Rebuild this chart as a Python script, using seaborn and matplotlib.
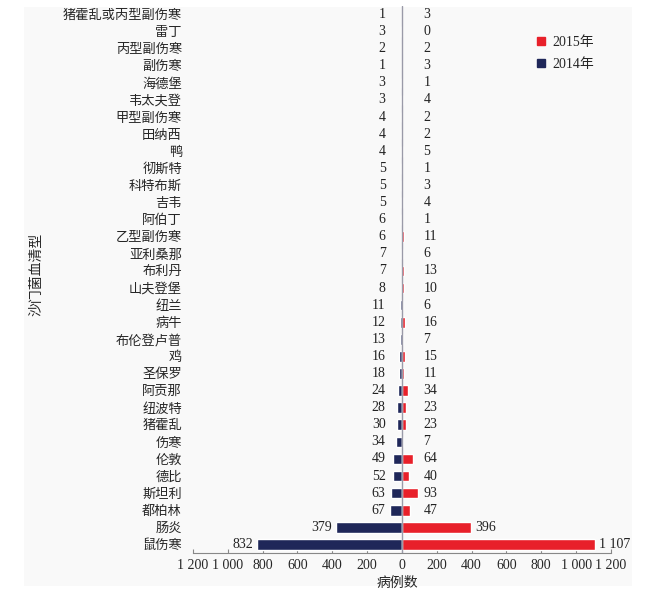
import numpy as np
import pandas as pd
import matplotlib
matplotlib.use("Agg")
import matplotlib.pyplot as plt
from matplotlib.lines import Line2D
from matplotlib.patches import Rectangle
from matplotlib.ticker import FuncFormatter
import seaborn as sns

# ── Data ──────────────────────────────────────────────────────────────────
serotypes = ["猪霍乱或丙型副伤寒", "雷丁", "丙型副伤寒", "副伤寒", "海德堡", "韦太夫登",
             "甲型副伤寒", "田纳西", "鸭", "彻斯特", "科特布斯", "吉韦", "阿伯丁",
             "乙型副伤寒", "亚利桑那", "布利丹", "山夫登堡", "纽兰", "病牛", "布伦登卢普",
             "鸡", "圣保罗", "阿贡那", "纽波特", "猪霍乱", "伤寒", "伦敦", "德比",
             "斯坦利", "都柏林", "肠炎", "鼠伤寒"]
cases_2014 = [1, 3, 2, 1, 3, 3, 4, 4, 4, 5, 5, 5, 6, 6, 7, 7, 8, 11, 12, 13,
              16, 18, 24, 28, 30, 34, 49, 52, 63, 67, 379, 832]
cases_2015 = [3, 0, 2, 3, 1, 4, 2, 2, 5, 1, 3, 4, 1, 11, 6, 13, 10, 6, 16, 7,
              15, 11, 34, 23, 23, 7, 64, 40, 93, 47, 396, 1107]
xticks = [-1200, -1000, -800, -600, -400, -200, 0, 200, 400, 600, 800, 1000, 1200]

RED = "#e8202a"
NAVY = "#1f2759"
BG = "#f9f9f9"

df = pd.DataFrame({
    "serotype": serotypes * 2,
    "year": ["2014年"] * len(serotypes) + ["2015年"] * len(serotypes),
    "value": [-v for v in cases_2014] + list(cases_2015),
})

sns.set_theme(style="white")
plt.rcParams["font.family"] = ["Liberation Serif", "Noto Sans CJK SC", "DejaVu Sans"]

fig = plt.figure(figsize=(6.52, 5.94), dpi=100)
fig.patches.append(Rectangle((0.037, 0.0135), 0.932, 0.975, transform=fig.transFigure,
                             facecolor=BG, edgecolor="none", zorder=-10))
ax = fig.add_axes([0.296, 0.069, 0.641, 0.921])
ax.set_facecolor("none")

sns.barplot(data=df, y="serotype", x="value", hue="year", dodge=False,
            palette={"2014年": NAVY, "2015年": RED}, order=serotypes,
            width=0.62, saturation=1, legend=False, ax=ax, zorder=2)

ax.axvline(0, color="#9a9aa8", lw=1, zorder=3)

# value labels
for i, (a, b) in enumerate(zip(cases_2014, cases_2015)):
    ax.annotate(str(a), xy=(-max(a, 70), i), xytext=(-3, 0), textcoords="offset points",
                ha="right", va="center", fontsize=10, color="#222222")
    txt = f"{b:,}".replace(",", " ")
    ax.annotate(txt, xy=(max(b, 100), i), xytext=(3, 0), textcoords="offset points",
                ha="left", va="center", fontsize=10, color="#222222")

ax.set_xlim(-1200, 1200)
ax.set_ylim(len(serotypes) - 0.5, -0.5)
ax.set_xticks(xticks)
ax.xaxis.set_major_formatter(FuncFormatter(lambda v, p: f"{abs(int(v)):,}".replace(",", " ")))
ax.tick_params(axis="x", direction="in", length=3, width=0.8, color="#888888",
               labelsize=10, pad=4, bottom=True)
ax.tick_params(axis="y", length=0, labelsize=9.5, pad=8)

for s in ["top", "right", "left"]:
    ax.spines[s].set_visible(False)
ax.spines["bottom"].set_color("#888888")
ax.spines["bottom"].set_linewidth(0.8)

ax.set_xlabel("病例数", fontsize=10)
ax.set_ylabel("沙门菌血清型", fontsize=10)
ax.xaxis.set_label_coords(0.49, -0.043)
ax.yaxis.set_label_coords(-0.357, 0.51)

handles = [Line2D([], [], marker="s", ls="", color=RED, markersize=6),
           Line2D([], [], marker="s", ls="", color=NAVY, markersize=6)]
fig.legend(handles, ["2015年", "2014年"], loc="upper left", bbox_to_anchor=(0.802, 0.96),
           frameon=False, fontsize=10, handlelength=0.8, handletextpad=0.4, labelspacing=0.6)

fig.savefig("out.png", dpi=100, facecolor="white")
